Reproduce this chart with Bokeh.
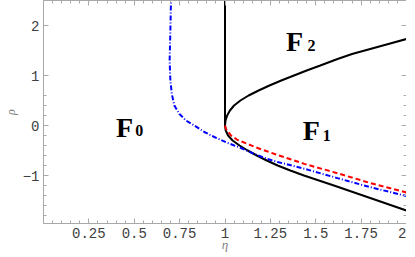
from bokeh.plotting import figure
from bokeh.models import LinearAxis, FixedTicker
from bokeh.core.properties import value
from bokeh.embed import file_html
from bokeh.resources import INLINE

# ---- data ----
# black: vertical boundary eta = 1
vert_eta = [1.0, 1.0]
vert_rho = [0.0, 2.6]
# black: parabola-like boundary (upper branch then lower branch)
par_eta = [2.0, 1.90, 1.80, 1.70, 1.62, 1.525, 1.45, 1.38, 1.31, 1.245, 1.185, 1.13, 1.085,
           1.05, 1.027, 1.012, 1.003, 1.0,
           1.004, 1.017, 1.042, 1.08, 1.125, 1.175, 1.23, 1.29, 1.36, 1.435, 1.60, 1.80, 2.0]
par_rho = [1.73, 1.63, 1.53, 1.43, 1.33, 1.2, 1.1, 1.0, 0.9, 0.8, 0.7, 0.6, 0.5,
           0.4, 0.3, 0.2, 0.1, 0.0,
           -0.1, -0.2, -0.3, -0.4, -0.5, -0.6, -0.7, -0.8, -0.9, -1.0, -1.2, -1.45, -1.7]
# red dashed
red_eta = [1.0, 1.006, 1.033, 1.07, 1.125, 1.18, 1.235, 1.29, 1.437, 1.62, 1.80, 2.0]
red_rho = [0.0, -0.07, -0.20, -0.29, -0.37, -0.45, -0.52, -0.59, -0.767, -0.955, -1.15, -1.34]
# blue dash-dot
blue_eta = [0.703, 0.699, 0.695, 0.699, 0.707, 0.721, 0.749, 0.785, 0.831, 0.886, 0.941, 1.015,
            1.088, 1.161, 1.235, 1.29, 1.44, 1.62, 1.80, 2.0]
blue_rho = [2.6, 1.9, 1.3, 0.9, 0.63, 0.40, 0.23, 0.10, 0.0, -0.13, -0.23, -0.35,
            -0.45, -0.57, -0.67, -0.73, -0.867, -1.053, -1.233, -1.41]

# region labels: main letter and subscript
lab_eta = [0.40, 1.428, 1.336]
lab_rho = [-0.04, -0.10, 1.68]
lab_text = ["F", "F", "F"]
sub_eta = [0.506, 1.539, 1.455]
sub_rho = [-0.10, -0.20, 1.61]
sub_text = ["0", "1", "2"]

x_ticks = [0.25, 0.5, 0.75, 1.0, 1.25, 1.5, 1.75, 2.0]
x_tick_labels = ["0.25", "0.5", "0.75", "1", "1.25", "1.5", "1.75", "2"]
x_minor = [round(0.05 * i, 2) for i in range(0, 41)]
y_ticks = [-1, 0, 1, 2]
y_tick_labels = ["\u22121", "0", "1", "2"]
y_minor = [round(-2.0 + 0.2 * i, 2) for i in range(0, 14)]

p = figure(frame_width=363, frame_height=223,
           x_range=(0, 2), y_range=(-1.96, 2.5),
           x_axis_type=None, y_axis_type=None,
           output_backend="svg", toolbar_location=None,
           min_border_left=0, min_border_right=0, min_border_top=0, min_border_bottom=0)
p.grid.visible = False
p.outline_line_color = None
p.background_fill_color = "white"

AX = "#a8a8a8"
LBL = "#404040"

def style(ax, labels=True):
    ax.axis_line_color = AX
    ax.axis_line_width = 1
    ax.major_tick_line_color = AX
    ax.minor_tick_line_color = AX
    ax.major_tick_in = 5
    ax.major_tick_out = 0
    ax.minor_tick_in = 3
    ax.minor_tick_out = 0
    ax.major_label_text_font = "Liberation Mono"
    ax.major_label_text_font_size = "14px" if labels else "1px"
    ax.major_label_text_color = LBL
    if not labels:
        ax.major_label_standoff = 0

xb = LinearAxis(ticker=FixedTicker(ticks=x_ticks, minor_ticks=x_minor),
                major_label_overrides={t: s for t, s in zip(x_ticks, x_tick_labels)},
                axis_label="\u03b7")
style(xb)
xb.major_label_standoff = 4
xb.axis_label_standoff = -4
xb.axis_label_text_font = "Liberation Serif"
xb.axis_label_text_font_style = "italic"
xb.axis_label_text_font_size = "13px"
xb.axis_label_text_color = "#808080"
p.add_layout(xb, "below")

yl = LinearAxis(ticker=FixedTicker(ticks=y_ticks, minor_ticks=y_minor),
                major_label_overrides={t: s for t, s in zip(y_ticks, y_tick_labels)},
                axis_label="\u03c1")
style(yl)
yl.major_label_standoff = 4
yl.axis_label_standoff = 2
yl.axis_label_text_font = "Liberation Serif"
yl.axis_label_text_font_style = "italic"
yl.axis_label_text_font_size = "12px"
yl.axis_label_text_color = "#808080"
p.add_layout(yl, "left")

xt = LinearAxis(ticker=FixedTicker(ticks=x_ticks, minor_ticks=x_minor),
                major_label_overrides={t: "" for t in x_ticks})
style(xt, labels=False)
p.add_layout(xt, "above")
yr = LinearAxis(ticker=FixedTicker(ticks=y_ticks, minor_ticks=y_minor),
                major_label_overrides={t: "" for t in y_ticks})
style(yr, labels=False)
p.add_layout(yr, "right")

p.line(vert_eta, vert_rho, line_color="black", line_width=2)
p.line(par_eta, par_rho, line_color="black", line_width=2)
p.line(red_eta, red_rho, line_color="#ff0000", line_width=2, line_dash="5 3")
p.line(blue_eta, blue_rho, line_color="#0000ff", line_width=2, line_dash="5 2 1 2")

p.text(lab_eta, lab_rho, text=lab_text, text_font=value("Liberation Serif"),
       text_font_style="bold", text_font_size="28px", text_color="black",
       text_align="left", text_baseline="alphabetic")
p.text(sub_eta, sub_rho, text=sub_text, text_font=value("Liberation Serif"),
       text_font_style="bold", text_font_size="16px", text_color="black",
       text_align="left", text_baseline="alphabetic")

open("out.html", "w").write(file_html(p, INLINE))
